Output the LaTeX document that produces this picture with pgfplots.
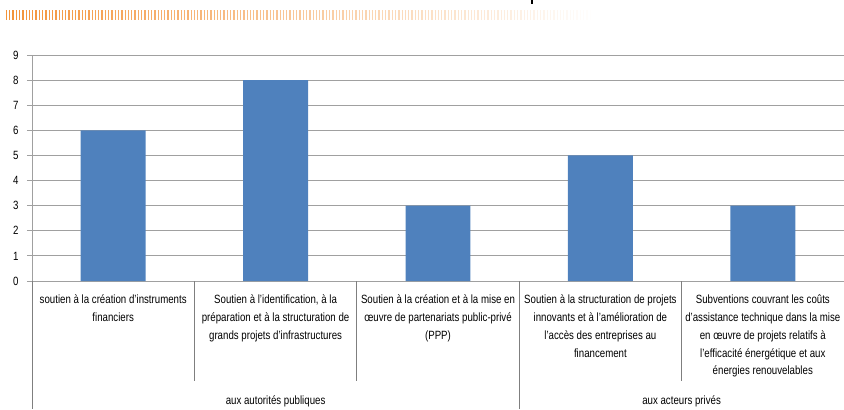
\documentclass[border=0pt]{standalone}
\usepackage{fontspec}
\setmainfont[FakeStretch=0.81]{Liberation Sans}
\usepackage{pgfplots}
\pgfplotsset{compat=1.18}
\usetikzlibrary{fadings}
\definecolor{barblue}{HTML}{4F81BD}
\definecolor{gridgray}{HTML}{A0A0A0}
\definecolor{sepgray}{HTML}{7F7F7F}
\definecolor{bandorange}{HTML}{F39237}

\begin{document}
\begin{tikzpicture}[x=1bp,y=1bp]
\useasboundingbox (-32,-128) rectangle (812,281);
% header band and cut title
\draw[bandorange, line width=10bp, dash pattern=on 1.3bp off 2bp, path fading=east] (-26,266.5) -- (560,266.5);
\draw[black, line width=1.2bp] (500,281) -- (500,277.5);
\begin{axis}[
  at={(0,0)}, anchor=south west,
  scale only axis, width=812bp, height=226bp,
  xmin=-0.5, xmax=4.5, ymin=0, ymax=9,
  ybar, bar width=0.4,
  ytick={0,...,9},
  xtick=data,
  xticklabels={
    {soutien à la création d'instruments\\financiers},
    {Soutien à l'identification, à la\\préparation et à la structuration de\\grands projets d'infrastructures},
    {Soutien à la création et à la mise en\\œuvre de partenariats public-privé\\(PPP)},
    {Soutien à la structuration de projets\\innovants et à l'amélioration de\\l'accès des entreprises au\\financement},
    {Subventions couvrant les coûts\\d'assistance technique dans la mise\\en œuvre de projets relatifs à\\l'efficacité énergétique et aux\\énergies renouvelables}},
  ymajorgrids, grid style={gridgray, line width=0.8bp},
  axis x line*=bottom, axis y line*=left,
  axis line style={gridgray, line width=0.8bp, -},
  xtick style={draw=none},
  ytick style={gridgray, line width=0.8bp},
  tick align=outside, major tick length=5bp,
  tick label style={font=\fontsize{12}{18}\selectfont, text=black},
  /pgf/number format/assume math mode=true,
  xticklabel style={align=center, anchor=north, yshift=-5bp},
  yticklabel style={xshift=-5bp},
  clip=false,
]
\addplot[fill=barblue, draw=none] coordinates {(0,6) (1,8) (2,3) (3,5) (4,3)};
% separators below the axis
\draw[sepgray, line width=0.8bp] (axis cs:0.5,0) -- ++(0bp,-100bp);
\draw[sepgray, line width=0.8bp] (axis cs:1.5,0) -- ++(0bp,-100bp);
\draw[sepgray, line width=0.8bp] (axis cs:3.5,0) -- ++(0bp,-100bp);
\draw[sepgray, line width=0.8bp] (axis cs:-0.5,0) -- ++(0bp,-128bp);
\draw[sepgray, line width=0.8bp] (axis cs:2.5,0) -- ++(0bp,-128bp);
\node[font=\fontsize{12}{18}\selectfont, text=black] at (axis cs:1,0) [yshift=-120bp] {aux autorités publiques};
\node[font=\fontsize{12}{18}\selectfont, text=black] at (axis cs:3.5,0) [yshift=-120bp] {aux acteurs privés};
\end{axis}
\end{tikzpicture}
\end{document}
